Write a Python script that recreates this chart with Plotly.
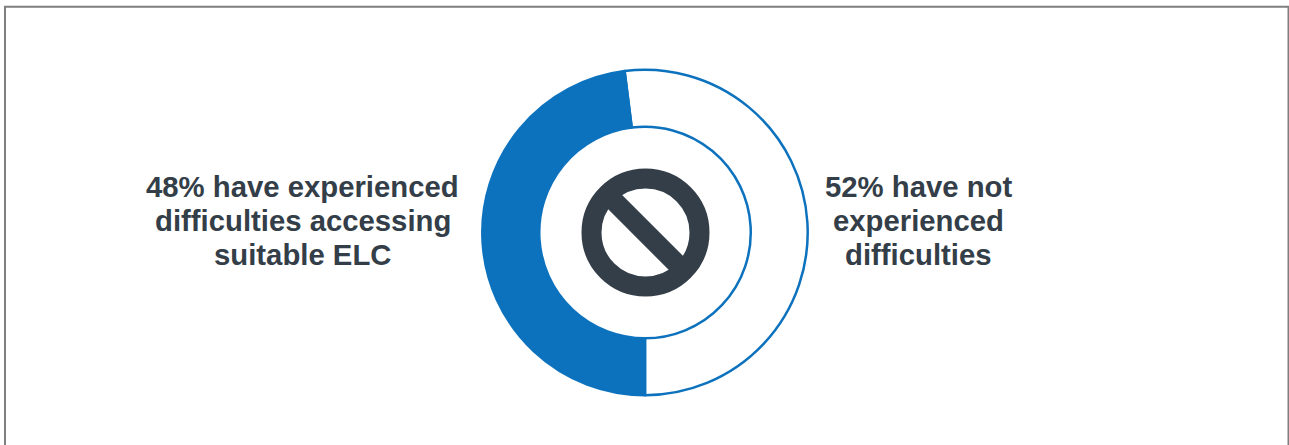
import plotly.graph_objects as go

# Survey shares for the doughnut
labels = ["Have not experienced difficulties", "Have experienced difficulties"]
shares = [52, 48]
right_lines = ["52% have not", "experienced", "difficulties"]
left_lines = ["48% have experienced", "difficulties accessing", "suitable ELC"]
line_rows = [186, 220, 254]

BLUE = "#0d72bd"
INK = "#333e48"
W, H = 1289, 445
CX, CY, R = 645, 232.5, 162.7

fig = go.Figure(
    go.Pie(
        labels=labels,
        values=shares,
        hole=0.65,
        sort=False,
        direction="clockwise",
        rotation=-7.2,
        textinfo="none",
        hoverinfo="label+percent",
        showlegend=False,
        marker=dict(colors=["#ffffff", BLUE], line=dict(color=BLUE, width=2.5)),
        domain=dict(
            x=[(CX - R) / W, (CX + R) / W],
            y=[1 - (CY + R) / H, 1 - (CY - R) / H],
        ),
    )
)

# Frame, and the "no entry" icon in the hole, on a pixel-sized overlay
ring_r, ring_w = 54, 20
bar = 44.5 * 0.7071
shapes = [
    dict(type="rect", x0=5, y0=6.7, x1=1288.5, y1=470, line=dict(color="#7f7f7f", width=2)),
    dict(type="circle", x0=CX - ring_r + 0.5, x1=CX + ring_r + 0.5, y0=CY - ring_r, y1=CY + ring_r,
         line=dict(color=INK, width=ring_w)),
    dict(type="line", x0=CX - bar + 0.5, x1=CX + bar + 0.5, y0=CY - bar, y1=CY + bar,
         line=dict(color=INK, width=ring_w)),
]

# Each text row is placed on its own so the rows keep a tight, even pitch
annotations = []
for x_mid, rows in ((918.5, right_lines), (302.5, left_lines)):
    for row, text in zip(line_rows, rows):
        annotations.append(
            dict(x=x_mid, y=row, text=text, xref="x", yref="y", showarrow=False,
                 xanchor="center", yanchor="middle",
                 font=dict(family="Liberation Sans", size=29.3, color=INK, weight="bold"))
        )

fig.update_layout(
    width=W,
    height=H,
    margin=dict(l=0, r=0, t=0, b=0),
    paper_bgcolor="white",
    plot_bgcolor="rgba(0,0,0,0)",
    xaxis=dict(range=[0, W], visible=False, fixedrange=True),
    yaxis=dict(range=[H, 0], visible=False, fixedrange=True),
    shapes=shapes,
    annotations=annotations,
)

fig.write_html("out.html", config=dict(displayModeBar=False))
